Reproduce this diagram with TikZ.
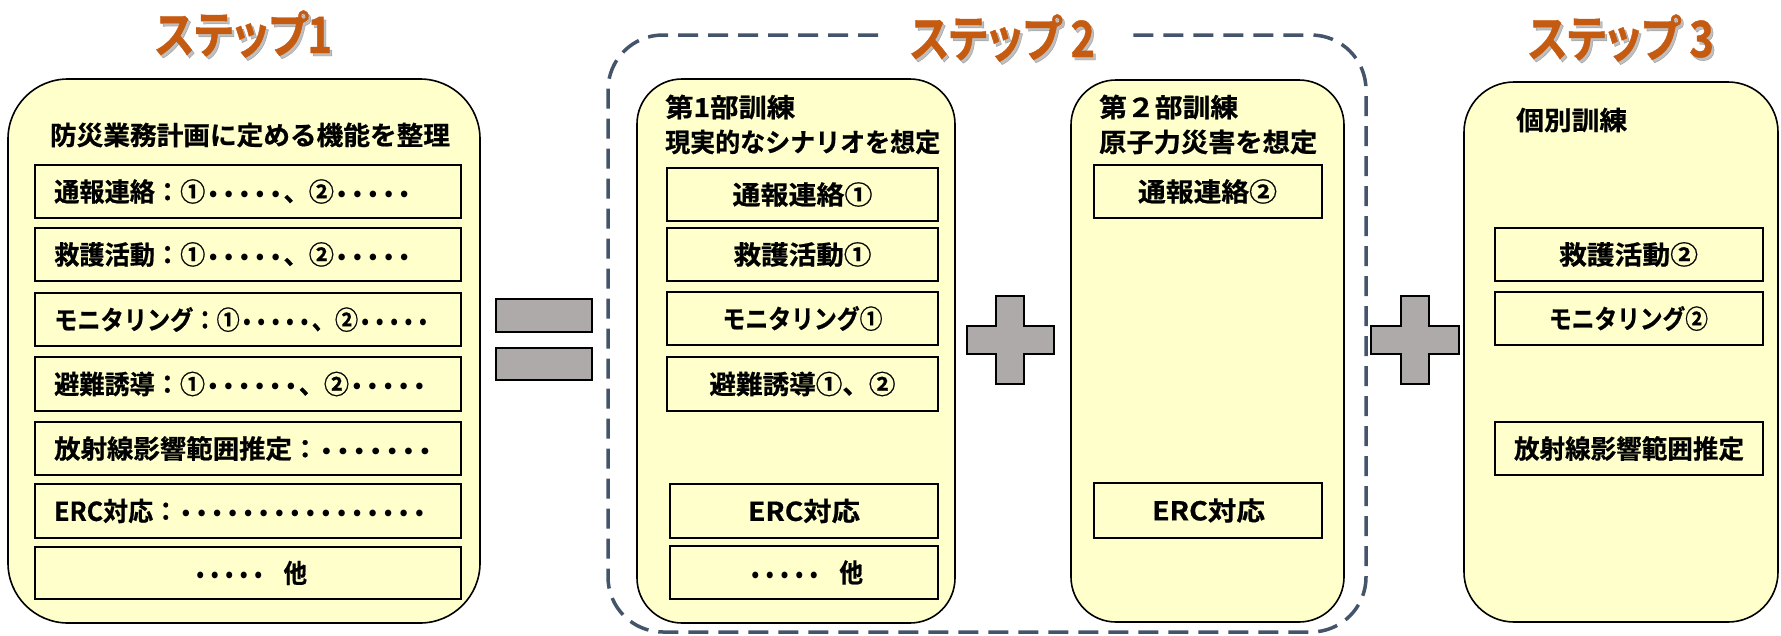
\documentclass[tikz,border=0pt]{standalone}
\usepackage{fontspec}
\usepackage{graphicx}
\newfontfamily\jpf{Noto Sans CJK JP}[BoldFont={* Bold},BoldFeatures={FakeBold=0.7}]
\newfontfamily\jpt{Noto Sans CJK JP}[BoldFont={* Bold},BoldFeatures={FakeBold=0.9},RawFeature=+palt]
\newfontfamily\dvf{DejaVu Sans}
\definecolor{boxfill}{HTML}{FFFFCC}
\definecolor{signgray}{HTML}{AEAAAA}
\definecolor{dashblue}{HTML}{44546A}
\definecolor{steporange}{HTML}{C55A11}
\newlength\fitlen
\newcommand\fitx[2]{\settowidth\fitlen{#2}\pgfmathsetmacro\fitr{#1/\fitlen}\scalebox{\fitr}[1]{#2}}
\newcommand\bd{{\dvf\fontsize{19}{19}\selectfont\kern2pt•\kern2pt}}
\begin{document}
\begin{tikzpicture}[x=1pt,y=-1pt,
  panel/.style={draw=black,line width=1.6pt,fill=boxfill},
  itembox/.style={draw=black,line width=1.3pt,fill=boxfill,rectangle,inner sep=0pt},
  txt/.style={font=\jpf\bfseries\fontsize{26}{30}\selectfont,inner sep=0pt},
  steptitle/.style={font=\jpt\bfseries\fontsize{50}{54}\selectfont,text=steporange,inner sep=0pt},
  stepshadow/.style={font=\jpt\bfseries\fontsize{50}{54}\selectfont,text=black,opacity=0.25,inner sep=0pt},
  sign/.style={draw=black,line width=1.5pt,fill=signgray},
  grp/.style={draw=dashblue,line width=3.5pt,dash pattern=on 20pt off 10pt,rounded corners=55pt}]
\useasboundingbox (0,0) rectangle (1781,635);

% ---------- step titles ----------
\node[stepshadow] (t1s) at (246,37) {\fitx{177}{ステップ1}};
\node[steptitle] (t1) at (243.5,34) {\fitx{177}{ステップ1}};
\node[stepshadow] (t2s) at (1005,41) {\fitx{185}{ステップ 2}};
\node[steptitle] (t2) at (1002.5,38) {\fitx{185}{ステップ 2}};
\node[stepshadow] (t3s) at (1623.5,41) {\fitx{186}{ステップ 3}};
\node[steptitle] (t3) at (1621,38) {\fitx{186}{ステップ 3}};

% ---------- step 2 dashed group ----------
\draw[grp] (878,35) -- (608,35) -- (608,632) -- (1366,632) -- (1366,35) -- (1125,35);

% ---------- panels ----------
\draw[panel,rounded corners=60pt] (8,79) rectangle (480,623);
\draw[panel,rounded corners=45pt] (637,79) rectangle (955,623);
\draw[panel,rounded corners=45pt] (1071,80) rectangle (1344,622);
\draw[panel,rounded corners=50pt] (1464,82) rectangle (1778,622);

% ---------- step 1 ----------
\node[txt] (h1) at (250,135) {\fitx{400}{防災業務計画に定める機能を整理}};
\node[itembox,minimum width=426pt,minimum height=53pt] (a1) at (248,191.5) {};
\node[txt,anchor=west] (a1t) at (54,191.5) {\fitx{358}{通報連絡：①\bd\bd\bd\bd\bd、②\bd\bd\bd\bd\bd}};
\node[itembox,minimum width=426pt,minimum height=53pt] (b1) at (248,254.5) {};
\node[txt,anchor=west] (b1t) at (54,254.5) {\fitx{358}{救護活動：①\bd\bd\bd\bd\bd、②\bd\bd\bd\bd\bd}};
\node[itembox,minimum width=426pt,minimum height=53pt] (c1) at (248,319.5) {};
\node[txt,anchor=west] (c1t) at (54,319.5) {\fitx{376}{モニタリング：①\bd\bd\bd\bd\bd、②\bd\bd\bd\bd\bd}};
\node[itembox,minimum width=426pt,minimum height=54pt] (d1) at (248,384) {};
\node[txt,anchor=west] (d1t) at (54,384) {\fitx{373}{避難誘導：①\bd\bd\bd\bd\bd\bd、②\bd\bd\bd\bd\bd}};
\node[itembox,minimum width=426pt,minimum height=53pt] (e1) at (248,448.5) {};
\node[txt,anchor=west] (e1t) at (54,448.5) {\fitx{379}{放射線影響範囲推定：\bd\bd\bd\bd\bd\bd\bd}};
\node[itembox,minimum width=426pt,minimum height=54pt] (f1) at (248,511) {};
\node[txt,anchor=west] (f1t) at (54,511) {\fitx{373}{ERC対応：\bd\bd\bd\bd\bd\bd\bd\bd\bd\bd\bd\bd\bd\bd\bd\bd}};
\node[itembox,minimum width=426pt,minimum height=52pt] (g1) at (248,573) {};
\node[txt] (g1t) at (250,573) {\fitx{114}{\bd\bd\bd\bd\bd\hspace{20pt}他}};

% ---------- step 2, part 1 ----------
\node[txt,anchor=west] (h2a) at (665,107) {\fitx{130}{第1部訓練}};
\node[txt,anchor=west] (h2b) at (665,142) {\fitx{275}{現実的なシナリオを想定}};
\node[itembox,minimum width=271pt,minimum height=53pt] (a2) at (802.5,194.5) {};
\node[txt] (a2t) at (802.5,194.5) {\fitx{140}{通報連絡①}};
\node[itembox,minimum width=271pt,minimum height=53pt] (b2) at (802.5,254.5) {};
\node[txt] (b2t) at (802.5,254.5) {\fitx{138}{救護活動①}};
\node[itembox,minimum width=271pt,minimum height=53pt] (c2) at (802.5,318.5) {};
\node[txt] (c2t) at (802.5,318.5) {\fitx{160}{モニタリング①}};
\node[itembox,minimum width=271pt,minimum height=54pt] (d2) at (802.5,384) {};
\node[txt] (d2t) at (802.5,384) {\fitx{186}{避難誘導①、②}};
\node[itembox,minimum width=268pt,minimum height=54pt] (e2) at (804,511) {};
\node[txt] (e2t) at (804,511) {\fitx{112}{ERC対応}};
\node[itembox,minimum width=268pt,minimum height=53pt] (f2) at (804,572.5) {};
\node[txt] (f2t) at (805.5,572.5) {\fitx{115}{\bd\bd\bd\bd\bd\hspace{20pt}他}};

% ---------- step 2, part 2 ----------
\node[txt,anchor=west] (h3a) at (1099,107) {\fitx{139}{第２部訓練}};
\node[txt,anchor=west] (h3b) at (1099,142) {\fitx{218}{原子力災害を想定}};
\node[itembox,minimum width=228pt,minimum height=53pt] (a3) at (1208,191.5) {};
\node[txt] (a3t) at (1207.5,191.5) {\fitx{139}{通報連絡②}};
\node[itembox,minimum width=228pt,minimum height=55pt] (b3) at (1208,510.5) {};
\node[txt] (b3t) at (1208.5,510.5) {\fitx{113}{ERC対応}};

% ---------- step 3 ----------
\node[txt,anchor=west] (h4) at (1516,120) {\fitx{111}{個別訓練}};
\node[itembox,minimum width=268pt,minimum height=53pt] (a4) at (1629,254.5) {};
\node[txt] (a4t) at (1628.5,254.5) {\fitx{139}{救護活動②}};
\node[itembox,minimum width=268pt,minimum height=53pt] (b4) at (1629,318.5) {};
\node[txt] (b4t) at (1628.5,318.5) {\fitx{159}{モニタリング②}};
\node[itembox,minimum width=268pt,minimum height=53pt] (c4) at (1629,448.5) {};
\node[txt] (c4t) at (1629,448.5) {\fitx{230}{放射線影響範囲推定}};

% ---------- equal sign ----------
\draw[sign] (496,299) rectangle (592,332);
\draw[sign] (496,348) rectangle (592,380);

% ---------- plus signs ----------
\draw[sign] (996,296) -- (1024,296) -- (1024,326) -- (1054,326) -- (1054,354) -- (1024,354)
  -- (1024,384) -- (996,384) -- (996,354) -- (967,354) -- (967,326) -- (996,326) -- cycle;
\draw[sign] (1401,296) -- (1429,296) -- (1429,326) -- (1459,326) -- (1459,354) -- (1429,354)
  -- (1429,384) -- (1401,384) -- (1401,354) -- (1371,354) -- (1371,326) -- (1401,326) -- cycle;
\end{tikzpicture}
\end{document}
